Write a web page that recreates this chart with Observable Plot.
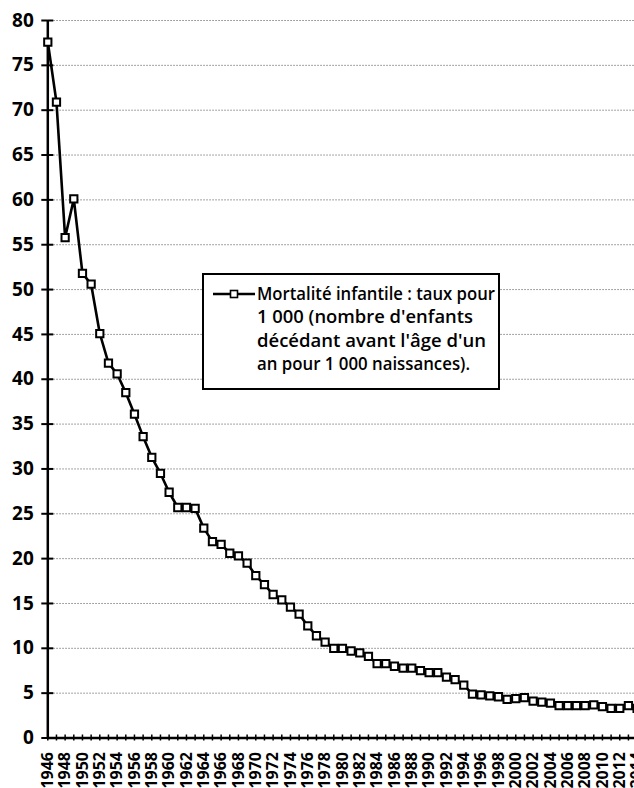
<!DOCTYPE html>
<html><head><meta charset="utf-8">
<script src="https://cdn.jsdelivr.net/npm/d3@7"></script>
<script src="https://cdn.jsdelivr.net/npm/@observablehq/plot@0.6"></script>
<style>
html,body{margin:0;padding:0;background:#fff;overflow:hidden;}
#chart svg{overflow:hidden;display:block;}
</style></head><body><div id="chart"></div>
<script>
const years = [1946,1947,1948,1949,1950,1951,1952,1953,1954,1955,1956,1957,1958,1959,
  1960,1961,1962,1963,1964,1965,1966,1967,1968,1969,1970,1971,1972,1973,1974,1975,1976,
  1977,1978,1979,1980,1981,1982,1983,1984,1985,1986,1987,1988,1989,1990,1991,1992,1993,
  1994,1995,1996,1997,1998,1999,2000,2001,2002,2003,2004,2005,2006,2007,2008,2009,2010,
  2011,2012,2013,2014];
const mortality = [77.6,70.9,55.8,60.1,51.8,50.6,45.1,41.8,40.6,38.5,36.1,33.6,31.3,29.5,
  27.4,25.7,25.7,25.6,23.4,21.9,21.6,20.6,20.3,19.5,18.1,17.1,16.0,15.4,14.6,13.8,12.5,
  11.4,10.7,10.0,10.0,9.7,9.5,9.1,8.3,8.3,8.0,7.8,7.8,7.5,7.3,7.3,6.8,6.5,
  5.9,4.9,4.8,4.7,4.6,4.3,4.4,4.5,4.1,4.0,3.9,3.6,3.6,3.6,3.6,3.7,3.5,
  3.3,3.3,3.6,3.3];
const yTicks = [0,5,10,15,20,25,30,35,40,45,50,55,60,65,70,75,80];
const yGrid = [5,10,15,20,25,30,35,40,45,50,55,60,65,70,75,80];
const xLabelYears = years.filter(y => y % 2 === 0);
const legendLines = ["Mortalité infantile : taux pour", "1 000 (nombre d'enfants", "décédant avant l'âge d'un", "an pour 1 000 naissances)."];
const legendWidths = [238, 216, 229, 213];

const data = years.map((year, i) => ({year, value: mortality[i]}));

const plot = Plot.plot({
  width: 634, height: 788,
  marginLeft: 47.3, marginRight: -2.6, marginTop: 20, marginBottom: 50.5,
  style: {fontFamily: "'Open Sans', sans-serif", fontWeight: "bold", background: "#fff", overflow: "hidden", color: "black"},
  x: {domain: [1946, 2014], axis: null},
  y: {domain: [0, 80], axis: null},
  marks: [
    Plot.gridY(yGrid, {stroke: "#666", strokeOpacity: 0.8, strokeWidth: 1, strokeDasharray: "1.5,1.5"}),
    Plot.ruleY([0], {stroke: "black", strokeWidth: 2.5}),
    Plot.ruleX([1946], {y1: 0, y2: 80, stroke: "black", strokeWidth: 2.5}),
    Plot.axisY({ticks: yTicks, anchor: "left", tickSize: 6, tickPadding: 8, fontSize: 19, fontWeight: "bold", label: null, tickFormat: d => String(d), strokeWidth: 2, fill: "black"}),
    Plot.axisY({ticks: yTicks, anchor: "left", tickSize: 6, dx: 6, text: null, label: null, strokeWidth: 2}),
    Plot.axisX({ticks: years, anchor: "bottom", tickSize: 3, text: null, label: null, strokeWidth: 1.5}),
    Plot.axisX({ticks: years, anchor: "bottom", tickSize: 3, dy: -3, text: null, label: null, strokeWidth: 1.5}),
    Plot.axisX({ticks: xLabelYears, anchor: "bottom", tickSize: 0, tickPadding: 14, tickRotate: -90, fontSize: 16, fontWeight: "bold", label: null, tickFormat: d => String(d), fill: "black"}),
    Plot.line(data, {x: "year", y: "value", stroke: "black", strokeWidth: 2.6}),
    Plot.dot(data, {x: "year", y: "value", symbol: "square", r: 4.1, fill: "white", stroke: "black", strokeWidth: 2})
  ]
});
document.getElementById("chart").appendChild(plot);

// Legend box
const svg = d3.select(plot);
const g = svg.append("g").attr("class", "legend");
g.append("rect").attr("x", 203).attr("y", 274).attr("width", 296).attr("height", 115)
  .attr("fill", "white").attr("stroke", "black").attr("stroke-width", 2);
g.append("line").attr("x1", 213).attr("x2", 255).attr("y1", 294).attr("y2", 294)
  .attr("stroke", "black").attr("stroke-width", 2.5);
g.append("rect").attr("x", 230.5).attr("y", 290.5).attr("width", 7).attr("height", 7)
  .attr("fill", "white").attr("stroke", "black").attr("stroke-width", 1.6);
legendLines.forEach((t, i) => {
  g.append("text").attr("x", 257).attr("y", 300 + i * 23.4)
    .attr("text-anchor", "start")
    .attr("font-family", "'Open Sans', sans-serif").attr("font-weight", 600)
    .attr("font-size", 17.5).attr("fill", "black")
    .attr("textLength", legendWidths[i]).attr("lengthAdjust", "spacingAndGlyphs")
    .text(t);
});
</script></body></html>
